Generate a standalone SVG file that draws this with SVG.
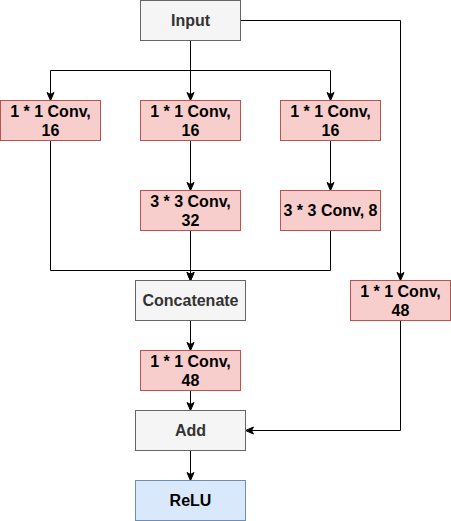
<svg xmlns="http://www.w3.org/2000/svg" width="451" height="521" viewBox="0 0 451 521">
<style>
.g{fill:#f5f5f5;stroke:#666666;stroke-width:1}
.r{fill:#f8cecc;stroke:#b85450;stroke-width:1}
.b{fill:#dae8fc;stroke:#6c8ebf;stroke-width:1}
text{font-family:"Liberation Sans",Arial,sans-serif;font-size:16px;font-weight:bold;text-anchor:middle}
.tg{fill:#333333}
.tk{fill:#000000}
.e{fill:none;stroke:#000000;stroke-width:1}
</style>
<defs>
<marker id="a" markerUnits="userSpaceOnUse" markerWidth="10" markerHeight="10" viewBox="0 0 10 10" refX="9" refY="5" orient="auto">
<path d="M1,1.5 L9,5 L1,8.5 L3,5 z" fill="#000" stroke="#000" stroke-width="1"/>
</marker>
</defs>
<g id="connectors">
<path class="e" d="M190.5,40.5 V70.5 H50.5 V100.5" marker-end="url(#a)"/>
<path class="e" d="M190.5,40.5 V100.5" marker-end="url(#a)"/>
<path class="e" d="M190.5,40.5 V70.5 H330.5 V100.5" marker-end="url(#a)"/>
<path class="e" d="M240.5,20.5 H400.5 V280.5" marker-end="url(#a)"/>
<path class="e" d="M190.5,140.5 V190.5" marker-end="url(#a)"/>
<path class="e" d="M330.5,140.5 V190.5" marker-end="url(#a)"/>
<path class="e" d="M50.5,140.5 V270.5 H190.5 V280.5" marker-end="url(#a)"/>
<path class="e" d="M190.5,230.5 V280.5" marker-end="url(#a)"/>
<path class="e" d="M330.5,230.5 V270.5 H190.5 V280.5" marker-end="url(#a)"/>
<path class="e" d="M190.5,320.5 V350.5" marker-end="url(#a)"/>
<path class="e" d="M190.5,390.5 V410.5" marker-end="url(#a)"/>
<path class="e" d="M400.5,320.5 V430.5 H245.5" marker-end="url(#a)"/>
<path class="e" d="M190.5,450.5 V480.5" marker-end="url(#a)"/>
</g>
<g id="input"><rect class="g" x="140.5" y="0.5" width="100" height="40"/><text class="tg" x="190.5" y="26">Input</text></g>
<g id="conv1a"><rect class="r" x="0.5" y="100.5" width="100" height="40"/><text class="tk" x="50.5" y="116.5">1 * 1 Conv,</text><text class="tk" x="50.5" y="135.5">16</text></g>
<g id="conv1b"><rect class="r" x="140.5" y="100.5" width="100" height="40"/><text class="tk" x="190.5" y="116.5">1 * 1 Conv,</text><text class="tk" x="190.5" y="135.5">16</text></g>
<g id="conv1c"><rect class="r" x="280.5" y="100.5" width="100" height="40"/><text class="tk" x="330.5" y="116.5">1 * 1 Conv,</text><text class="tk" x="330.5" y="135.5">16</text></g>
<g id="conv3a"><rect class="r" x="140.5" y="190.5" width="100" height="40"/><text class="tk" x="190.5" y="206.5">3 * 3 Conv,</text><text class="tk" x="190.5" y="225.5">32</text></g>
<g id="conv3b"><rect class="r" x="280.5" y="190.5" width="100" height="40"/><text class="tk" x="330.5" y="216">3 * 3 Conv, 8</text></g>
<g id="concat"><rect class="g" x="135.5" y="280.5" width="110" height="40"/><text class="tg" x="190.5" y="306">Concatenate</text></g>
<g id="conv48r"><rect class="r" x="350.5" y="280.5" width="100" height="40"/><text class="tk" x="400.5" y="296.5">1 * 1 Conv,</text><text class="tk" x="400.5" y="315.5">48</text></g>
<g id="conv48"><rect class="r" x="140.5" y="350.5" width="100" height="40"/><text class="tk" x="190.5" y="366.5">1 * 1 Conv,</text><text class="tk" x="190.5" y="385.5">48</text></g>
<g id="add"><rect class="g" x="135.5" y="410.5" width="110" height="40"/><text class="tg" x="190.5" y="436">Add</text></g>
<g id="relu"><rect class="b" x="135.5" y="480.5" width="110" height="40"/><text class="tk" x="190.5" y="506">ReLU</text></g>
</svg>
